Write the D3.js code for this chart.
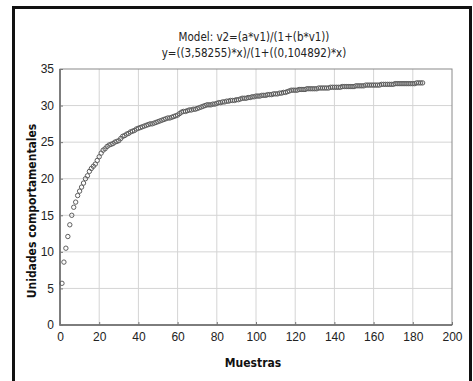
<!DOCTYPE html>
<html>
<head>
<meta charset="utf-8">
<script src="https://cdn.jsdelivr.net/npm/d3@7"></script>
<style>
  html, body { margin: 0; padding: 0; background: #fff; }
  svg { display: block; font-family: "DejaVu Sans", sans-serif; font-stretch: condensed; }
  .grid line { stroke: #d4d4d4; stroke-width: 1; }
  .axis path { display: none; }
  .axis line { stroke: #777; }
  .axis text { fill: #222; font-size: 12px; }
</style>
</head>
<body>
<svg id="chart" width="473" height="381"></svg>
<script>
const units = [
  5.7, 8.6, 10.5, 12.1, 13.7, 15.0, 16.1, 16.8, 17.7, 18.3,
  18.85, 19.4, 20.0, 20.4, 21.0, 21.4, 21.7, 22.0, 22.5, 23.0,
  23.5, 23.9, 24.1, 24.4, 24.6,
  24.7, 24.8, 25.0, 25.1, 25.2, 25.5, 25.8, 25.9, 26.1, 26.2,
  26.4, 26.5, 26.6, 26.8, 26.9,
  27.0, 27.1, 27.2, 27.3, 27.4, 27.5, 27.5, 27.6, 27.7, 27.8,
  27.9, 28.0, 28.1, 28.2, 28.3, 28.3, 28.4, 28.5, 28.6, 28.7,
  28.9, 29.1, 29.2, 29.2, 29.3, 29.4, 29.4, 29.5, 29.5, 29.6,
  29.7, 29.8, 29.9, 30.0, 30.1, 30.1, 30.1, 30.2, 30.2, 30.3,
  30.4, 30.4, 30.5, 30.5, 30.6, 30.6, 30.7, 30.7, 30.7, 30.8,
  30.8, 30.9, 31.0, 31.0, 31.0, 31.1, 31.1, 31.2, 31.2, 31.3,
  31.3, 31.3, 31.4, 31.4, 31.4, 31.5, 31.5, 31.5, 31.6, 31.6,
  31.6, 31.7, 31.7, 31.8, 31.8, 31.9, 32.0, 32.1, 32.1, 32.1,
  32.1, 32.2, 32.2, 32.2, 32.2, 32.3, 32.3, 32.3, 32.3, 32.3,
  32.3, 32.4, 32.4, 32.4, 32.4, 32.4, 32.4, 32.5, 32.5, 32.5,
  32.5, 32.5, 32.5, 32.6, 32.6, 32.6, 32.6, 32.6, 32.6, 32.6,
  32.7, 32.7, 32.7, 32.7, 32.7, 32.8, 32.8, 32.8, 32.8, 32.8,
  32.8, 32.8, 32.8, 32.9, 32.9, 32.9, 32.9, 32.9, 32.9, 32.9,
  33.0, 33.0, 33.0, 33.0, 33.0, 33.0, 33.0, 33.0, 33.0, 33.0,
  33.0, 33.1, 33.1, 33.1, 33.1
];
const samples = units.map((d, i) => i + 1);

const xTicks = [0, 20, 40, 60, 80, 100, 120, 140, 160, 180, 200];
const yTicks = [0, 5, 10, 15, 20, 25, 30, 35];
const titleLines = ['Model: v2=(a*v1)/(1+(b*v1))', 'y=((3,58255)*x)/(1+((0,104892)*x)'];
const xLabel = 'Muestras';
const yLabel = 'Unidades comportamentales';

const svg = d3.select('#chart');
const margin = { left: 60, right: 21, top: 69, bottom: 56 };
const width = 473, height = 381;
const innerWidth = width - margin.left - margin.right;
const innerHeight = height - margin.top - margin.bottom;

const x = d3.scaleLinear().domain([0, 200]).range([0, innerWidth]);
const y = d3.scaleLinear().domain([0, 35]).range([innerHeight, 0]);

// outer frame (bottom edge falls off the picture)
const frame = svg.append('g').attr('stroke', '#111').attr('stroke-width', 3);
frame.append('line').attr('x1', 13.5).attr('x2', 13.5).attr('y1', 6).attr('y2', height);
frame.append('line').attr('x1', 12).attr('x2', 472).attr('y1', 7.5).attr('y2', 7.5);
frame.append('line').attr('x1', 470.5).attr('x2', 470.5).attr('y1', 6).attr('y2', height);

const g = svg.append('g').attr('transform', `translate(${margin.left}, ${margin.top})`);

// grid
const grid = g.append('g').attr('class', 'grid');
grid.selectAll('line.v')
  .data(xTicks.slice(1, -1))
  .enter().append('line').attr('class', 'v')
  .attr('x1', (d) => x(d)).attr('x2', (d) => x(d))
  .attr('y1', 0).attr('y2', innerHeight);
grid.selectAll('line.h')
  .data(yTicks.slice(1, -1))
  .enter().append('line').attr('class', 'h')
  .attr('x1', 0).attr('x2', innerWidth)
  .attr('y1', (d) => y(d)).attr('y2', (d) => y(d));

// plot box
g.append('rect')
  .attr('width', innerWidth).attr('height', innerHeight)
  .attr('fill', 'none').attr('stroke', '#8a8a8a').attr('stroke-width', 1);
g.append('path')
  .attr('d', `M0,0V${innerHeight}H${innerWidth}`)
  .attr('fill', 'none').attr('stroke', '#666').attr('stroke-width', 1.5);

// axes
const xAxis = d3.axisBottom(x).tickValues(xTicks).tickSize(-3).tickPadding(7);
g.append('g').attr('class', 'axis')
  .attr('transform', `translate(0, ${innerHeight})`)
  .call(xAxis);
const yAxis = d3.axisLeft(y).tickValues(yTicks).tickSize(-3).tickPadding(6);
g.append('g').attr('class', 'axis').call(yAxis);

// points
g.append('g')
  .selectAll('circle')
  .data(units)
  .enter()
  .append('circle')
  .attr('cx', (d, i) => x(samples[i]))
  .attr('cy', (d) => y(d))
  .attr('r', 2.2)
  .attr('fill', 'none')
  .attr('stroke', '#5e5e5e')
  .attr('stroke-width', 1);

// title
svg.append('g')
  .selectAll('text')
  .data(titleLines)
  .enter()
  .append('text')
  .attr('x', margin.left + innerWidth / 2 - 2)
  .attr('y', (d, i) => 41 + i * 16)
  .attr('text-anchor', 'middle')
  .attr('font-size', 11.5)
  .attr('fill', '#222')
  .text((d) => d);

svg.append('text')
  .attr('x', margin.left + innerWidth / 2 - 3)
  .attr('y', 367)
  .attr('text-anchor', 'middle')
  .attr('font-size', 12)
  .attr('font-weight', 'bold')
  .attr('fill', '#111')
  .text(xLabel);

svg.append('text')
  .attr('transform', 'translate(36, 211) rotate(-90)')
  .attr('text-anchor', 'middle')
  .attr('font-size', 12)
  .attr('font-weight', 'bold')
  .attr('fill', '#111')
  .text(yLabel);
</script>
</body>
</html>
